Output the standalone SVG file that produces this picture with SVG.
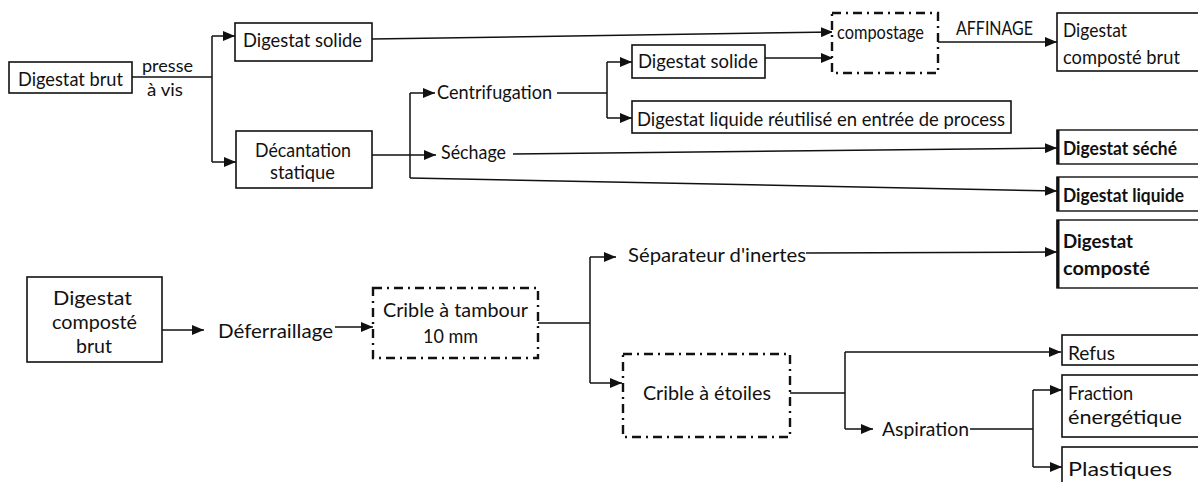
<svg xmlns="http://www.w3.org/2000/svg" width="1198" height="482" viewBox="0 0 1198 482">
<style>
text{font-family:Lato,"Open Sans","Liberation Sans",sans-serif;font-size:19px;fill:#111}
.b{font-weight:bold}
.s{font-size:17px}
.box{fill:#fff;stroke:#111;stroke-width:1.6}
.thick{fill:#fff;stroke:#111;stroke-width:1.4}
.dash{fill:#fff;stroke:#111;stroke-width:2.4;stroke-dasharray:9 5 2 5}
.c line,.c path{fill:none;stroke:#111;stroke-width:1.5}
.arr{marker-end:url(#ah)}
</style>
<defs>
<marker id="ah" viewBox="0 0 12 10" refX="12" refY="5" markerWidth="12" markerHeight="10" markerUnits="userSpaceOnUse" orient="auto">
<path d="M0,0 L12,5 L0,10 Z" fill="#111"/>
</marker>
</defs>
<rect width="1198" height="482" fill="#fff"/>

<g id="connectors" class="c">
<path d="M132,77 H212 M212,36 V162"/>
<line x1="212" y1="36" x2="235" y2="36" class="arr"/>
<line x1="212" y1="162" x2="236" y2="162" class="arr"/>
<line x1="372" y1="39" x2="833" y2="32" class="arr"/>
<path d="M372,155 H410 M410,93 V178"/>
<line x1="410" y1="93" x2="435" y2="93" class="arr"/>
<line x1="410" y1="155" x2="436" y2="155" class="arr"/>
<line x1="410" y1="178" x2="1057" y2="191" class="arr"/>
<path d="M557,93 H607 M607,62 V118"/>
<line x1="607" y1="62" x2="632" y2="62" class="arr"/>
<line x1="607" y1="118" x2="632" y2="118" class="arr"/>
<line x1="765" y1="58" x2="833" y2="58" class="arr"/>
<line x1="513" y1="154" x2="1057" y2="148" class="arr"/>
<line x1="938" y1="42" x2="1057" y2="42" class="arr"/>
<line x1="162" y1="330" x2="204" y2="330" class="arr"/>
<line x1="335" y1="327" x2="373" y2="327" class="arr"/>
<path d="M538,323 H590 M590,257 V383"/>
<line x1="590" y1="257" x2="616" y2="257" class="arr"/>
<line x1="590" y1="383" x2="622" y2="383" class="arr"/>
<line x1="806" y1="253" x2="1057" y2="252" class="arr"/>
<path d="M790,393 H845 M845,352 V429"/>
<line x1="845" y1="352" x2="1061" y2="352" class="arr"/>
<line x1="845" y1="429" x2="873" y2="429" class="arr"/>
<path d="M970,429 H1033 M1033,390 V467"/>
<line x1="1033" y1="390" x2="1062" y2="390" class="arr"/>
<line x1="1033" y1="467" x2="1062" y2="467" class="arr"/>
</g>

<g id="digestat-brut"><rect class="box" x="9" y="62" width="123" height="31"/><text x="18" y="86" textLength="105" lengthAdjust="spacingAndGlyphs">Digestat brut</text></g>
<g id="label-presse"><text class="s" x="142" y="72" textLength="51" lengthAdjust="spacingAndGlyphs">presse</text><text class="s" x="147" y="96" textLength="36" lengthAdjust="spacingAndGlyphs">à vis</text></g>
<g id="digestat-solide-1"><rect class="box" x="235" y="23" width="137" height="38"/><text x="243" y="47" textLength="119" lengthAdjust="spacingAndGlyphs">Digestat solide</text></g>
<g id="decantation"><rect class="box" x="236" y="131" width="136" height="57"/><text x="255" y="157" textLength="96" lengthAdjust="spacingAndGlyphs">Décantation</text><text x="270" y="179" textLength="65" lengthAdjust="spacingAndGlyphs">statique</text></g>
<g id="centrifugation"><text x="437" y="99" textLength="115" lengthAdjust="spacingAndGlyphs">Centrifugation</text></g>
<g id="sechage"><text x="441" y="159" textLength="65" lengthAdjust="spacingAndGlyphs">Séchage</text></g>
<g id="digestat-solide-2"><rect class="box" x="632" y="45" width="133" height="33"/><text x="638" y="68" textLength="120" lengthAdjust="spacingAndGlyphs">Digestat solide</text></g>
<g id="digestat-liquide-reutilise"><rect class="box" x="632" y="101" width="379" height="32"/><text x="637" y="126" textLength="368" lengthAdjust="spacingAndGlyphs">Digestat liquide réutilisé en entrée de process</text></g>
<g id="compostage"><rect class="dash" x="832" y="13" width="106" height="60"/><text x="837" y="39" textLength="87" lengthAdjust="spacingAndGlyphs">compostage</text></g>
<g id="label-affinage"><text x="956" y="35" textLength="77" lengthAdjust="spacingAndGlyphs">AFFINAGE</text></g>
<g id="digestat-composte-brut-1"><rect class="box" x="1057" y="13" width="150" height="58"/><text x="1063" y="37" textLength="64" lengthAdjust="spacingAndGlyphs">Digestat</text><text x="1063" y="64" textLength="117" lengthAdjust="spacingAndGlyphs">composté brut</text></g>
<g id="digestat-seche"><rect class="thick" x="1057" y="130" width="150" height="34"/><line x1="1058" y1="130" x2="1058" y2="164" stroke="#111" stroke-width="3"/><text class="b" x="1063" y="155" textLength="114" lengthAdjust="spacingAndGlyphs">Digestat séché</text></g>
<g id="digestat-liquide"><rect class="thick" x="1057" y="177" width="150" height="34"/><line x1="1058" y1="177" x2="1058" y2="211" stroke="#111" stroke-width="3"/><text class="b" x="1063" y="202" textLength="121" lengthAdjust="spacingAndGlyphs">Digestat liquide</text></g>
<g id="digestat-composte"><rect class="thick" x="1057" y="220" width="150" height="68"/><line x1="1058" y1="220" x2="1058" y2="288" stroke="#111" stroke-width="3"/><text class="b" x="1063" y="248" textLength="70" lengthAdjust="spacingAndGlyphs">Digestat</text><text class="b" x="1063" y="275" textLength="87" lengthAdjust="spacingAndGlyphs">composté</text></g>

<g id="digestat-composte-brut-2"><rect class="box" x="27" y="277" width="135" height="85"/><text x="53" y="305" textLength="79" lengthAdjust="spacingAndGlyphs">Digestat</text><text x="52" y="329" textLength="85" lengthAdjust="spacingAndGlyphs">composté</text><text x="76" y="353" textLength="36" lengthAdjust="spacingAndGlyphs">brut</text></g>
<g id="deferraillage"><text x="218" y="338" textLength="115" lengthAdjust="spacingAndGlyphs">Déferraillage</text></g>
<g id="crible-tambour"><rect class="dash" x="373" y="288" width="165" height="70"/><text x="383" y="317" textLength="145" lengthAdjust="spacingAndGlyphs">Crible à tambour</text><text x="423" y="343" textLength="55" lengthAdjust="spacingAndGlyphs">10 mm</text></g>
<g id="separateur"><text x="628" y="262" textLength="178" lengthAdjust="spacingAndGlyphs">Séparateur d'inertes</text></g>
<g id="crible-etoiles"><rect class="dash" x="623" y="354" width="167" height="83"/><text x="643" y="400" textLength="128" lengthAdjust="spacingAndGlyphs">Crible à étoiles</text></g>
<g id="aspiration"><text x="882" y="436" textLength="87" lengthAdjust="spacingAndGlyphs">Aspiration</text></g>
<g id="refus"><rect class="box" x="1062" y="335" width="145" height="30"/><text x="1068" y="360" textLength="47" lengthAdjust="spacingAndGlyphs">Refus</text></g>
<g id="fraction-energetique"><rect class="box" x="1062" y="375" width="145" height="62"/><text x="1068" y="400" textLength="65" lengthAdjust="spacingAndGlyphs">Fraction</text><text x="1068" y="424" textLength="114" lengthAdjust="spacingAndGlyphs">énergétique</text></g>
<g id="plastiques"><rect class="box" x="1062" y="447" width="145" height="45"/><text x="1068" y="476" textLength="104" lengthAdjust="spacingAndGlyphs">Plastiques</text></g>
</svg>
